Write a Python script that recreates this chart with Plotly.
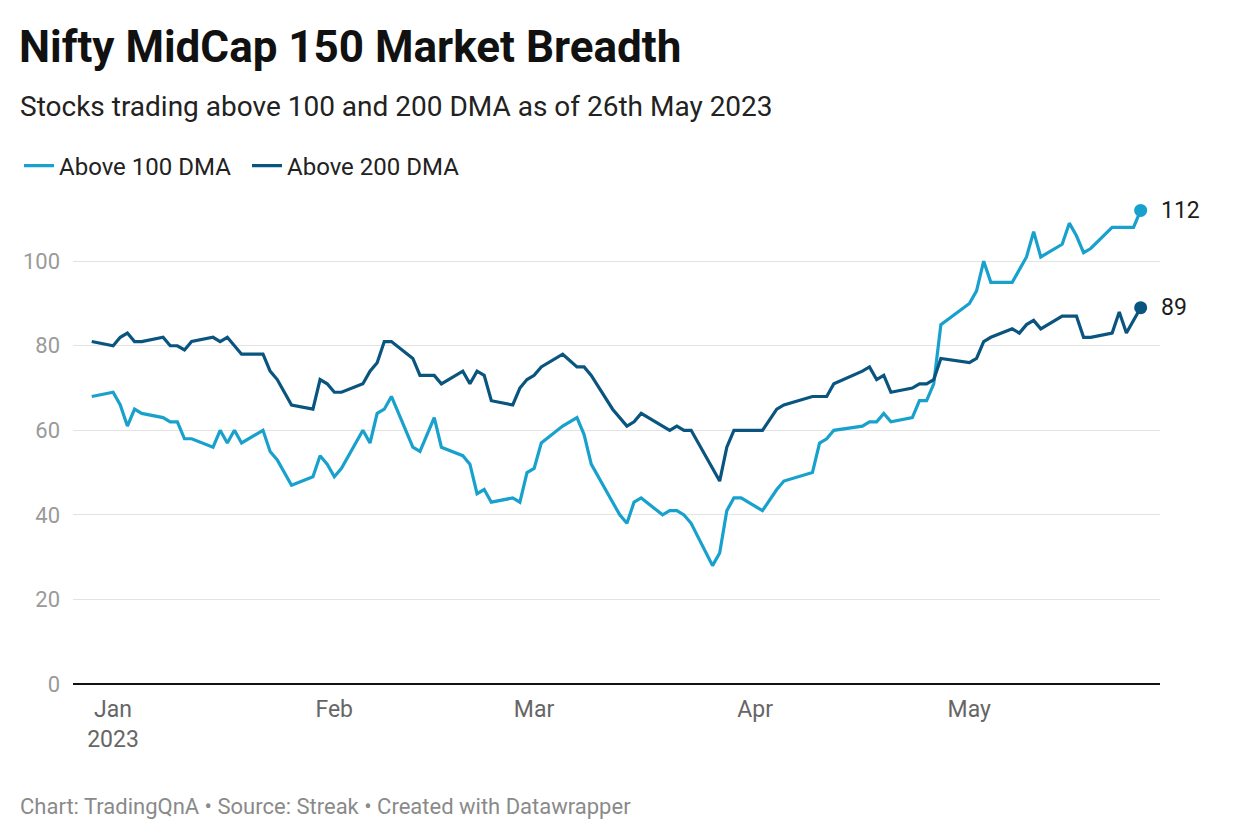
import plotly.graph_objects as go

# ---------------- data ----------------
dates = [
    "2022-12-30", "2023-01-02", "2023-01-03", "2023-01-04", "2023-01-05", "2023-01-06",
    "2023-01-09", "2023-01-10", "2023-01-11", "2023-01-12", "2023-01-13",
    "2023-01-16", "2023-01-17", "2023-01-18", "2023-01-19", "2023-01-20",
    "2023-01-23", "2023-01-24", "2023-01-25", "2023-01-27",
    "2023-01-30", "2023-01-31", "2023-02-01", "2023-02-02", "2023-02-03",
    "2023-02-06", "2023-02-07", "2023-02-08", "2023-02-09", "2023-02-10",
    "2023-02-13", "2023-02-14", "2023-02-16", "2023-02-17",
    "2023-02-20", "2023-02-21", "2023-02-22", "2023-02-23", "2023-02-24",
    "2023-02-27", "2023-02-28", "2023-03-01", "2023-03-02", "2023-03-03",
    "2023-03-06", "2023-03-08", "2023-03-09", "2023-03-10",
    "2023-03-13", "2023-03-14", "2023-03-15", "2023-03-16", "2023-03-17",
    "2023-03-20", "2023-03-21", "2023-03-22", "2023-03-23", "2023-03-24",
    "2023-03-27", "2023-03-28", "2023-03-29", "2023-03-30", "2023-03-31",
    "2023-04-03", "2023-04-05", "2023-04-06",
    "2023-04-10", "2023-04-11", "2023-04-12", "2023-04-13",
    "2023-04-17", "2023-04-18", "2023-04-19", "2023-04-20", "2023-04-21",
    "2023-04-24", "2023-04-25", "2023-04-26", "2023-04-27", "2023-04-28",
    "2023-05-02", "2023-05-03", "2023-05-04", "2023-05-05",
    "2023-05-08", "2023-05-09", "2023-05-10", "2023-05-11", "2023-05-12",
    "2023-05-15", "2023-05-16", "2023-05-17", "2023-05-18", "2023-05-19",
    "2023-05-22", "2023-05-23", "2023-05-24", "2023-05-25", "2023-05-26",
]

above_100 = [
    68,
    69, 66, 61, 65, 64,
    63, 62, 62, 58, 58,
    56, 60, 57, 60, 57,
    60, 55, 53, 47,
    49, 54, 52, 49, 51,
    60, 57, 64, 65, 68,
    56, 55, 63, 56,
    54, 52, 45, 46, 43,
    44, 43, 50, 51, 57,
    61, 63, 59, 52,
    43, 40, 38, 43, 44,
    40, 41, 41, 40, 38,
    28, 31, 41, 44, 44,
    41, 46, 48,
    50, 57, 58, 60,
    61, 62, 62, 64, 62,
    63, 67, 67, 71, 85,
    90, 93, 100, 95,
    95, 98, 101, 107, 101,
    104, 109, 106, 102, 103,
    108, 108, 108, 108, 112,
]

above_200 = [
    81,
    80, 82, 83, 81, 81,
    82, 80, 80, 79, 81,
    82, 81, 82, 80, 78,
    78, 74, 72, 66,
    65, 72, 71, 69, 69,
    71, 74, 76, 81, 81,
    77, 73, 73, 71,
    74, 71, 74, 73, 67,
    66, 70, 72, 73, 75,
    78, 75, 75, 73,
    65, 63, 61, 62, 64,
    61, 60, 61, 60, 60,
    51, 48, 56, 60, 60,
    60, 65, 66,
    68, 68, 68, 71,
    74, 75, 72, 73, 69,
    70, 71, 71, 72, 77,
    76, 77, 81, 82,
    84, 83, 85, 86, 84,
    87, 87, 87, 82, 82,
    83, 88, 83, 86, 89,
]

series_names = ["Above 100 DMA", "Above 200 DMA"]
series_colors = ["#18a1cd", "#09557f"]

y_ticks = [0, 20, 40, 60, 80, 100]
x_tick_vals = ["2023-01-01", "2023-02-01", "2023-03-01", "2023-04-01", "2023-05-01"]
x_tick_text = ["Jan<br>2023", "Feb", "Mar", "Apr", "May"]

title_text = "Nifty MidCap 150 Market Breadth"
subtitle_text = "Stocks trading above 100 and 200 DMA as of 26th May 2023"
footer_text = "Chart: TradingQnA • Source: Streak • Created with Datawrapper"

# ---------------- layout geometry ----------------
# the page body has an 8px margin, so figure coords = page coords - 8
OFF = 8
W, H = 1240, 840
L, R, T, B = 65, 88, 194, 164
PW, PH = W - L - R, H - T - B


def px_x(page_x):
    return (page_x - OFF - L) / PW


def px_y(page_y):
    return (H - B - (page_y - OFF)) / PH


FONT = "Roboto"

fig = go.Figure()

for name, vals, col in zip(series_names, [above_100, above_200], series_colors):
    fig.add_trace(go.Scatter(
        x=dates, y=vals, mode="lines", name=name,
        line=dict(color=col, width=3.2),
    ))

for name, vals, col in zip(series_names, [above_100, above_200], series_colors):
    fig.add_trace(go.Scatter(
        x=[dates[-1]], y=[vals[-1]], mode="markers", showlegend=False,
        marker=dict(color=col, size=13), hoverinfo="skip",
    ))
    fig.add_annotation(
        x=dates[-1], y=vals[-1], xref="x", yref="y",
        text=str(vals[-1]), showarrow=False, xanchor="left", yanchor="middle",
        xshift=18, font=dict(family=FONT, size=23, color="#1d1d1d"),
    )

fig.add_annotation(
    x=px_x(18), y=px_y(106), xref="paper", yref="paper",
    text=subtitle_text, showarrow=False, xanchor="left", yanchor="middle",
    font=dict(family=FONT, size=28, color="#222222"),
)
fig.add_annotation(
    x=px_x(18), y=px_y(806), xref="paper", yref="paper",
    text=footer_text, showarrow=False, xanchor="left", yanchor="middle",
    font=dict(family=FONT, size=22, color="#8a8a8a"),
)

fig.update_layout(
    width=W, height=H,
    margin=dict(l=L, r=R, t=T, b=B),
    paper_bgcolor="white", plot_bgcolor="white",
    title=dict(
        text=title_text, xref="container", yref="container",
        x=11 / W, xanchor="left", y=1 - (47 - OFF) / H, yanchor="middle",
        font=dict(family=FONT, size=44, color="#111111", weight=700),
    ),
    legend=dict(
        orientation="h", xref="container", yref="container",
        x=11 / W, xanchor="left", y=1 - (166 - OFF) / H, yanchor="middle",
        font=dict(family=FONT, size=24, color="#222222"),
        bgcolor="rgba(0,0,0,0)", itemwidth=30,
        entrywidth=183, entrywidthmode="pixels",
    ),
    showlegend=True,
    hovermode=False,
)

fig.update_xaxes(
    type="date",
    range=["2022-12-27 09:00", "2023-05-28 17:00"],
    tickvals=x_tick_vals, ticktext=x_tick_text,
    showgrid=False, showline=False, zeroline=False,
    ticks="", ticklabelstandoff=9, ticklabelshift=7,
    tickfont=dict(family=FONT, size=23, color="#666666"),
)
fig.update_yaxes(
    range=[0, 114], tickvals=y_ticks,
    showgrid=True, gridcolor="#e3e3e3", gridwidth=1.2,
    zeroline=True, zerolinecolor="#111111", zerolinewidth=2,
    showline=False, ticks="", ticklabelstandoff=12,
    tickfont=dict(family=FONT, size=22, color="#9a9a9a"),
)

fig.write_html("out.html")
